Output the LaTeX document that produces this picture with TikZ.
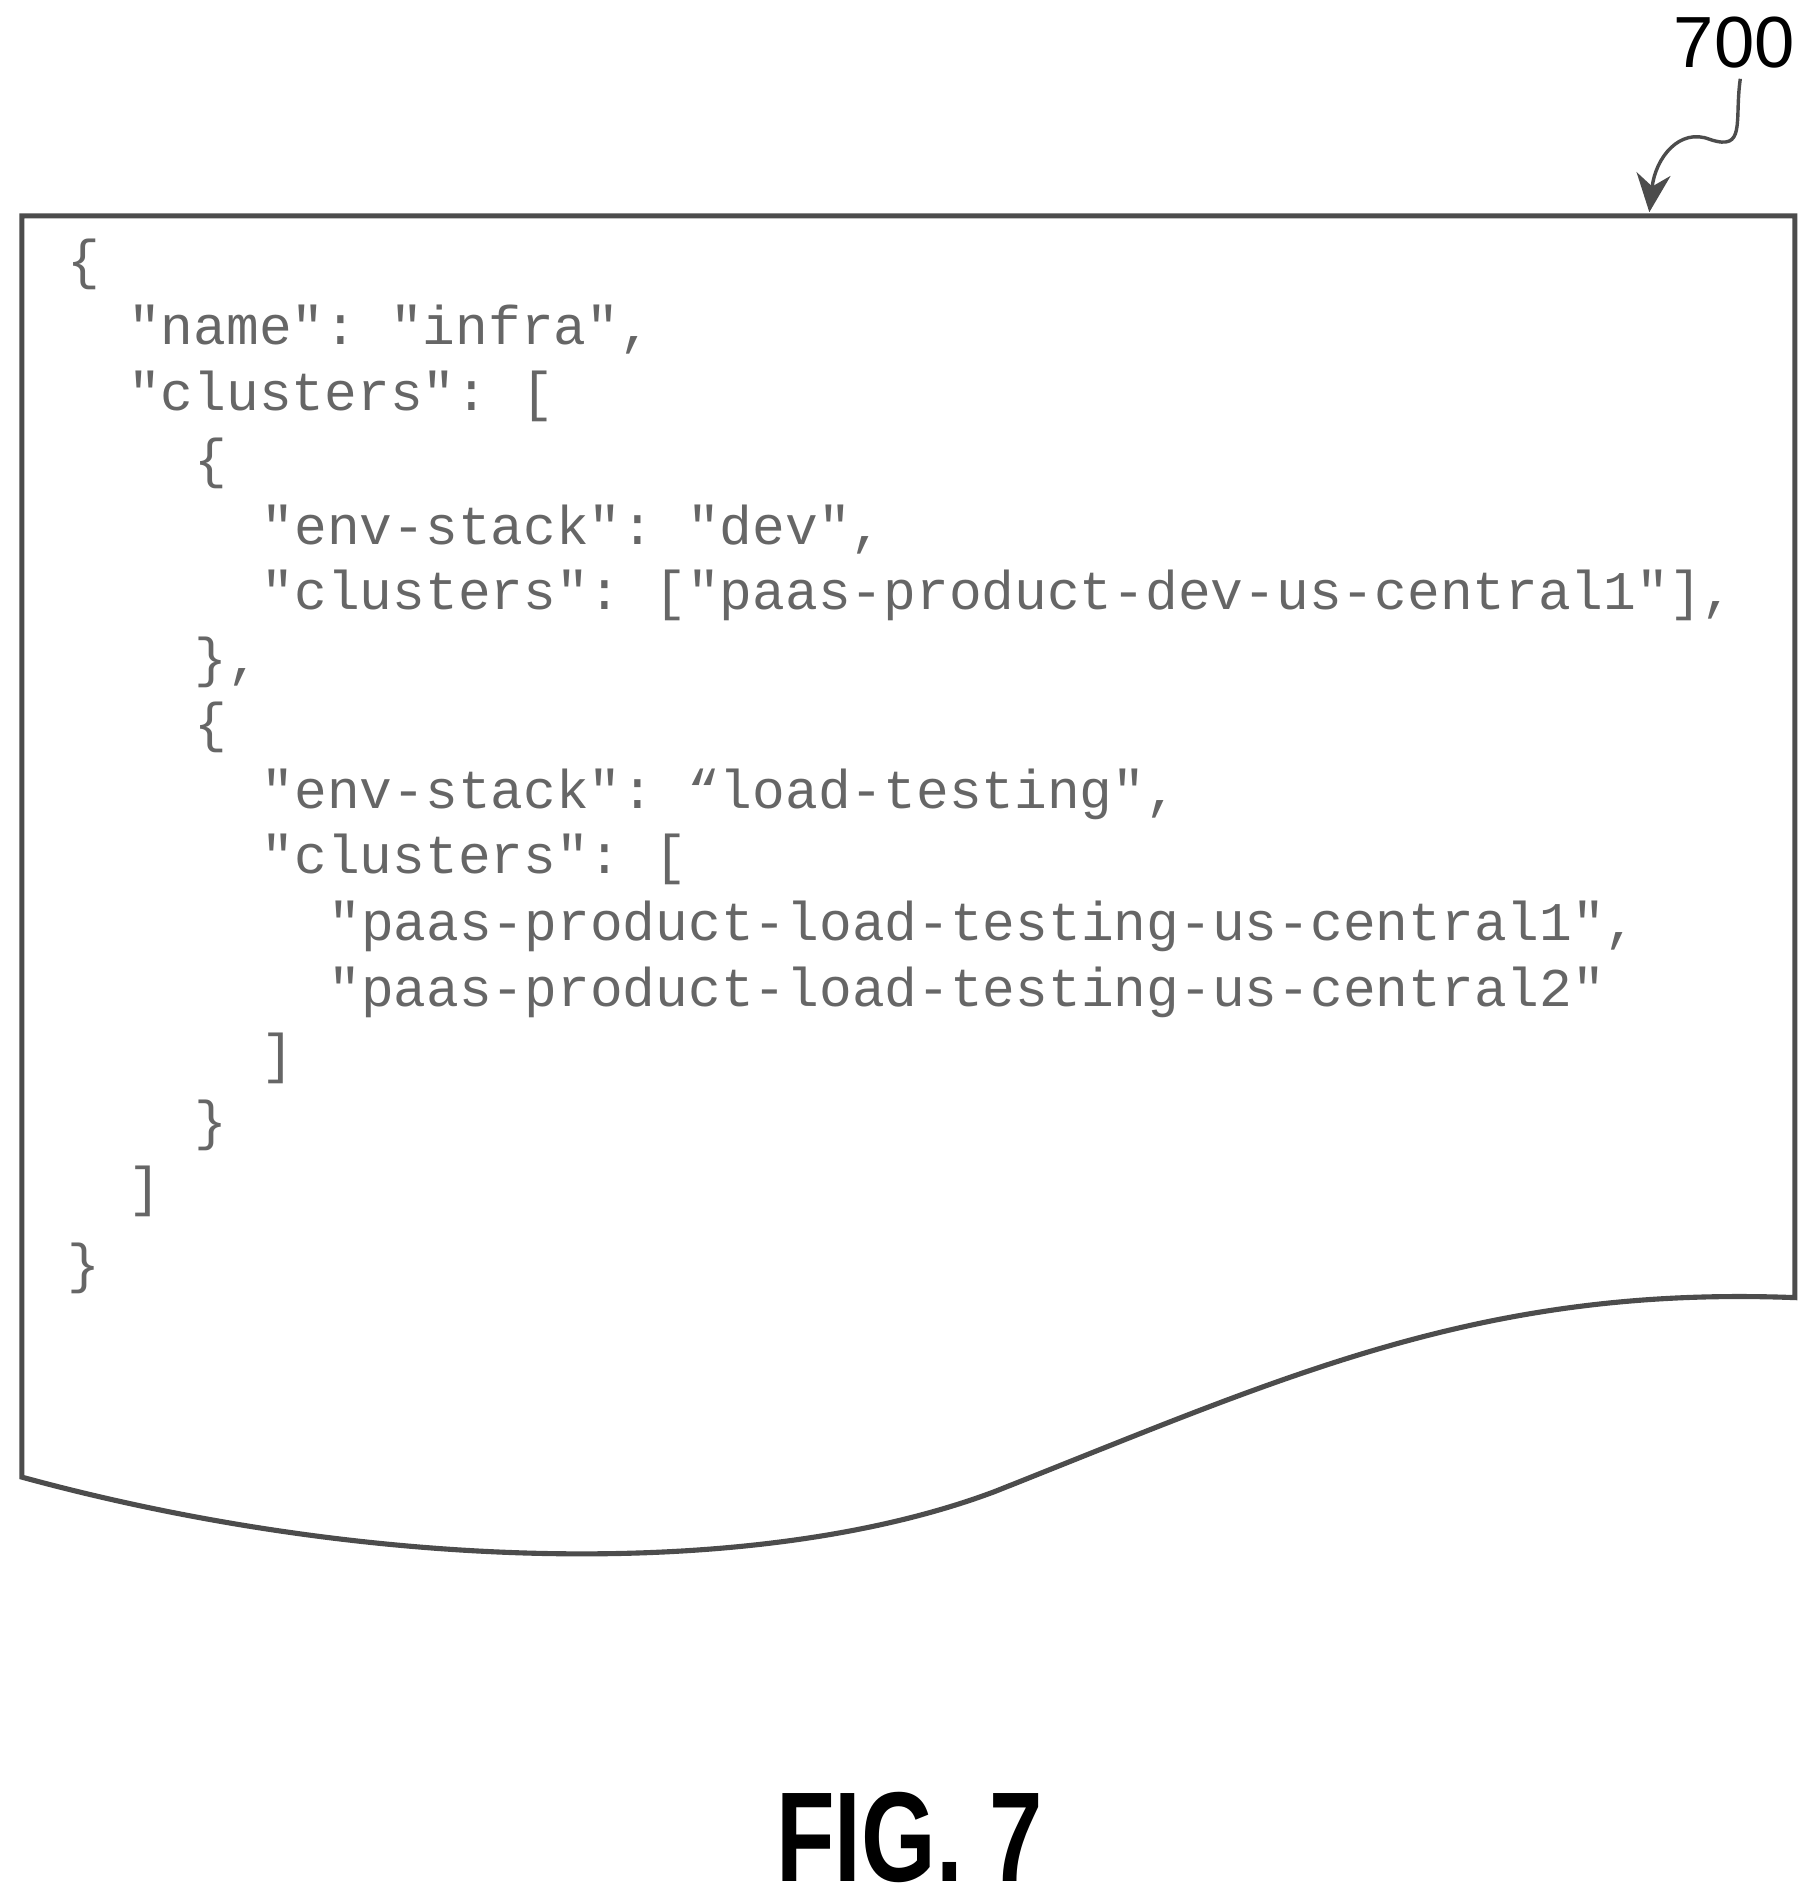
\documentclass[tikz,border=0pt]{standalone}
\usepackage{fontspec}
\setmainfont{Liberation Sans}
\setmonofont{Liberation Mono}
\usetikzlibrary{arrows.meta}

\begin{document}
\begin{tikzpicture}[
    code/.style={anchor=west, inner sep=0pt, text=black!60, font=\fontsize{12.8}{15}\selectfont\ttfamily},
    sheet/.style={draw=black!70, line width=1.2pt},
    lead/.style={-{Stealth[length=9pt,width=8pt]}, draw=black!70, line width=0.8pt}
]
\useasboundingbox (0,0) rectangle (15.0,15.7);

% sheet with wavy bottom edge
\draw[sheet] (0.18,13.92) -- (14.80,13.92) -- (14.80,5.00)
    .. controls (12.2,5.1) and (10.6,4.35) .. (8.2,3.4)
    .. controls (6.2,2.65) and (3.0,2.75) .. (0.18,3.52) -- cycle;

% code lines
\node[code] (l1)  at (0.55,13.52) {\{};
\node[code] (l2)  at (1.05,12.98) {"name": "infra",};
\node[code] (l3)  at (1.05,12.43) {"clusters": [};
\node[code] (l4)  at (1.60,11.88) {\{};
\node[code] (l5)  at (2.15,11.33) {"env-stack": "dev",};
\node[code] (l6)  at (2.15,10.79) {"clusters": ["paas-product-dev-us-central1"],};
\node[code] (l7)  at (1.60,10.24) {\},};
\node[code] (l8)  at (1.60,9.70)  {\{};
\node[code] (l9)  at (2.15,9.15)  {"env-stack": “load-testing",};
\node[code] (l10) at (2.15,8.61)  {"clusters": [};
\node[code] (l11) at (2.70,8.06)  {"paas-product-load-testing-us-central1",};
\node[code] (l12) at (2.70,7.52)  {"paas-product-load-testing-us-central2"};
\node[code] (l13) at (2.15,6.97)  {]};
\node[code] (l14) at (1.60,6.42)  {\}};
\node[code] (l15) at (1.05,5.88)  {]};
\node[code] (l16) at (0.55,5.24)  {\}};

% reference numeral
\node[inner sep=1pt, font=\fontsize{17}{19}\selectfont] (ref) at (14.30,15.35) {700};
\coordinate (tip) at (13.60,13.95);
\draw[lead] (14.35,15.05) .. controls (14.30,14.7) and (14.40,14.45) .. (14.10,14.55)
    .. controls (13.85,14.65) and (13.65,14.40) .. (tip);

% caption
\node[font=\fontsize{30}{32}\selectfont\bfseries, xscale=0.75] (fig) at (7.50,0.55) {FIG. 7};
\end{tikzpicture}
\end{document}
